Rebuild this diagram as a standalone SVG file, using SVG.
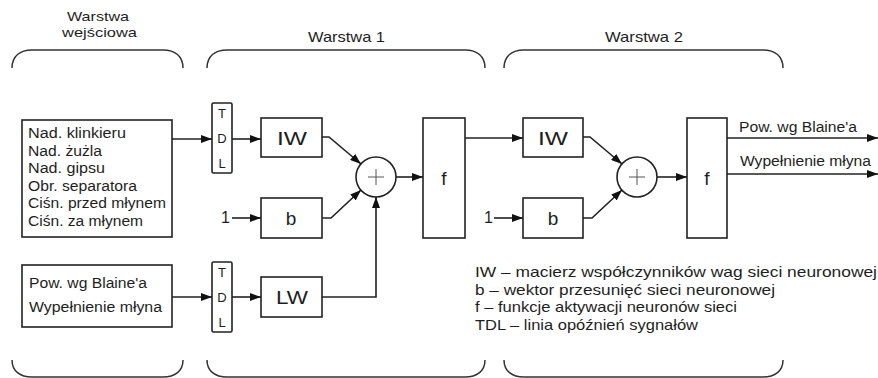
<svg xmlns="http://www.w3.org/2000/svg" width="878" height="378" viewBox="0 0 878 378">
<style>
  .bx{fill:#fff;stroke:#222;stroke-width:1.6}
  .ln{fill:none;stroke:#222;stroke-width:1.6}
  .br{fill:none;stroke:#333;stroke-width:1.5}
  .t{font-family:"Liberation Sans",Arial,sans-serif;fill:#1e1e1e}
  .s{font-size:14px}
  .m{font-size:19px;text-anchor:middle}
  .d{font-size:13px;text-anchor:middle}
  .l{font-size:15px}
  .h{font-size:13.5px}
</style>
<defs>
  <marker id="ah" markerUnits="userSpaceOnUse" markerWidth="11" markerHeight="8" refX="11" refY="4" orient="auto">
    <path d="M0,0 L11,4 L0,8 z" fill="#111"/>
  </marker>
</defs>
<rect width="878" height="378" fill="#fff"/>

<g id="headers">
  <text class="t h" x="67" y="20.5" textLength="62" lengthAdjust="spacingAndGlyphs">Warstwa</text>
  <text class="t h" x="62" y="36.5" textLength="75" lengthAdjust="spacingAndGlyphs">wejściowa</text>
  <text class="t l" x="308" y="42" textLength="77" lengthAdjust="spacingAndGlyphs">Warstwa 1</text>
  <text class="t l" x="605" y="42" textLength="78" lengthAdjust="spacingAndGlyphs">Warstwa 2</text>
</g>

<g id="brackets">
  <path class="br" d="M12,68 C12,56 20,50 32,50 H163 C175,50 183,56 183,68"/>
  <path class="br" d="M207,68 C207,56 215,50 227,50 H465 C477,50 485,56 485,68"/>
  <path class="br" d="M504,68 C504,56 512,50 524,50 H763 C775,50 783,56 783,68"/>
  <path class="br" d="M12,360 C12,371 20,377 32,377 H163 C175,377 183,371 183,360"/>
  <path class="br" d="M207,360 C207,371 215,377 227,377 H465 C477,377 485,371 485,360"/>
  <path class="br" d="M504,360 C504,371 512,377 524,377 H763 C775,377 783,371 783,360"/>
</g>

<g id="input1">
  <rect class="bx" x="22" y="120" width="150" height="117"/>
  <text class="t s" x="28" y="138" textLength="98" lengthAdjust="spacingAndGlyphs">Nad.  klinkieru</text>
  <text class="t s" x="28" y="156" textLength="74" lengthAdjust="spacingAndGlyphs">Nad.  żużla</text>
  <text class="t s" x="28" y="173" textLength="77" lengthAdjust="spacingAndGlyphs">Nad.  gipsu</text>
  <text class="t s" x="28" y="191" textLength="109" lengthAdjust="spacingAndGlyphs">Obr. separatora</text>
  <text class="t s" x="28" y="208" textLength="138" lengthAdjust="spacingAndGlyphs">Ciśn. przed młynem</text>
  <text class="t s" x="28" y="226" textLength="115" lengthAdjust="spacingAndGlyphs">Ciśn. za młynem</text>
</g>

<g id="input2">
  <rect class="bx" x="22" y="265" width="150" height="62"/>
  <text class="t s" x="29" y="288" textLength="118" lengthAdjust="spacingAndGlyphs">Pow. wg Blaine'a</text>
  <text class="t s" x="29" y="312" textLength="133" lengthAdjust="spacingAndGlyphs">Wypełnienie młyna</text>
</g>

<g id="tdl1">
  <rect class="bx" x="212" y="103" width="20" height="70" rx="1.5"/>
  <text class="t d" x="222" y="118">T</text>
  <text class="t d" x="222" y="143">D</text>
  <text class="t d" x="222" y="168">L</text>
</g>
<g id="tdl2">
  <rect class="bx" x="212" y="262" width="20" height="70" rx="1.5"/>
  <text class="t d" x="222" y="277">T</text>
  <text class="t d" x="222" y="302">D</text>
  <text class="t d" x="222" y="327">L</text>
</g>

<g id="iw1">
  <rect class="bx" x="261" y="118" width="61" height="39"/>
  <text class="t m" x="292" y="145" textLength="30" lengthAdjust="spacingAndGlyphs">IW</text>
</g>
<g id="b1">
  <rect class="bx" x="261" y="198" width="61" height="40"/>
  <text class="t m" x="291" y="225" font-size="20">b</text>
</g>
<g id="one1">
  <text class="t" x="221" y="223" font-size="16">1</text>
</g>
<g id="lw">
  <rect class="bx" x="261" y="277" width="61" height="40"/>
  <text class="t m" x="292" y="304" textLength="32" lengthAdjust="spacingAndGlyphs">LW</text>
</g>
<g id="sum1">
  <circle class="bx" cx="376" cy="177" r="20"/>
  <path d="M368,177 H384 M376,169 V185" stroke="#555" stroke-width="1" fill="none"/>
</g>
<g id="f1">
  <rect class="bx" x="423" y="118" width="42" height="120"/>
  <text class="t m" x="444" y="185" font-size="20">f</text>
</g>

<g id="iw2">
  <rect class="bx" x="523" y="118" width="60" height="39"/>
  <text class="t m" x="553" y="145" textLength="30" lengthAdjust="spacingAndGlyphs">IW</text>
</g>
<g id="b2">
  <rect class="bx" x="523" y="198" width="60" height="40"/>
  <text class="t m" x="553" y="225" font-size="20">b</text>
</g>
<g id="one2">
  <text class="t" x="484" y="223" font-size="16">1</text>
</g>
<g id="sum2">
  <circle class="bx" cx="637" cy="177" r="20"/>
  <path d="M629,177 H645 M637,169 V185" stroke="#555" stroke-width="1" fill="none"/>
</g>
<g id="f2">
  <rect class="bx" x="687" y="118" width="40" height="120"/>
  <text class="t m" x="707" y="185" font-size="20">f</text>
</g>

<g id="outputs">
  <text class="t s" x="739" y="132" textLength="118" lengthAdjust="spacingAndGlyphs">Pow. wg Blaine'a</text>
  <text class="t s" x="740" y="166" textLength="131" lengthAdjust="spacingAndGlyphs">Wypełnienie młyna</text>
</g>

<g id="connectors">
  <path class="ln" d="M172,139 H212" marker-end="url(#ah)"/>
  <path class="ln" d="M232,139 H261" marker-end="url(#ah)"/>
  <path class="ln" d="M322,137 H329 L361,164" marker-end="url(#ah)"/>
  <path class="ln" d="M232,218 H261" marker-end="url(#ah)"/>
  <path class="ln" d="M322,218 H331 L361,190" marker-end="url(#ah)"/>
  <path class="ln" d="M322,297 H376 V197" marker-end="url(#ah)"/>
  <path class="ln" d="M172,297 H212" marker-end="url(#ah)"/>
  <path class="ln" d="M232,297 H261" marker-end="url(#ah)"/>
  <path class="ln" d="M396,177 H423" marker-end="url(#ah)"/>
  <path class="ln" d="M465,138 H523" marker-end="url(#ah)"/>
  <path class="ln" d="M583,137 H590 L622,164" marker-end="url(#ah)"/>
  <path class="ln" d="M494,218 H523" marker-end="url(#ah)"/>
  <path class="ln" d="M583,218 H592 L622,190" marker-end="url(#ah)"/>
  <path class="ln" d="M657,177 H687" marker-end="url(#ah)"/>
  <path class="ln" d="M727,138 H878" marker-end="url(#ah)"/>
  <path class="ln" d="M727,174 H878" marker-end="url(#ah)"/>
</g>

<g id="legend">
  <text class="t l" x="475" y="277" textLength="402" lengthAdjust="spacingAndGlyphs">IW – macierz współczynników wag sieci neuronowej</text>
  <text class="t l" x="475" y="295" textLength="300" lengthAdjust="spacingAndGlyphs">b – wektor przesunięć sieci neuronowej</text>
  <text class="t l" x="475" y="312" textLength="262" lengthAdjust="spacingAndGlyphs">f – funkcje aktywacji neuronów sieci</text>
  <text class="t l" x="475" y="330" textLength="223" lengthAdjust="spacingAndGlyphs">TDL – linia opóźnień sygnałów</text>
</g>
</svg>
